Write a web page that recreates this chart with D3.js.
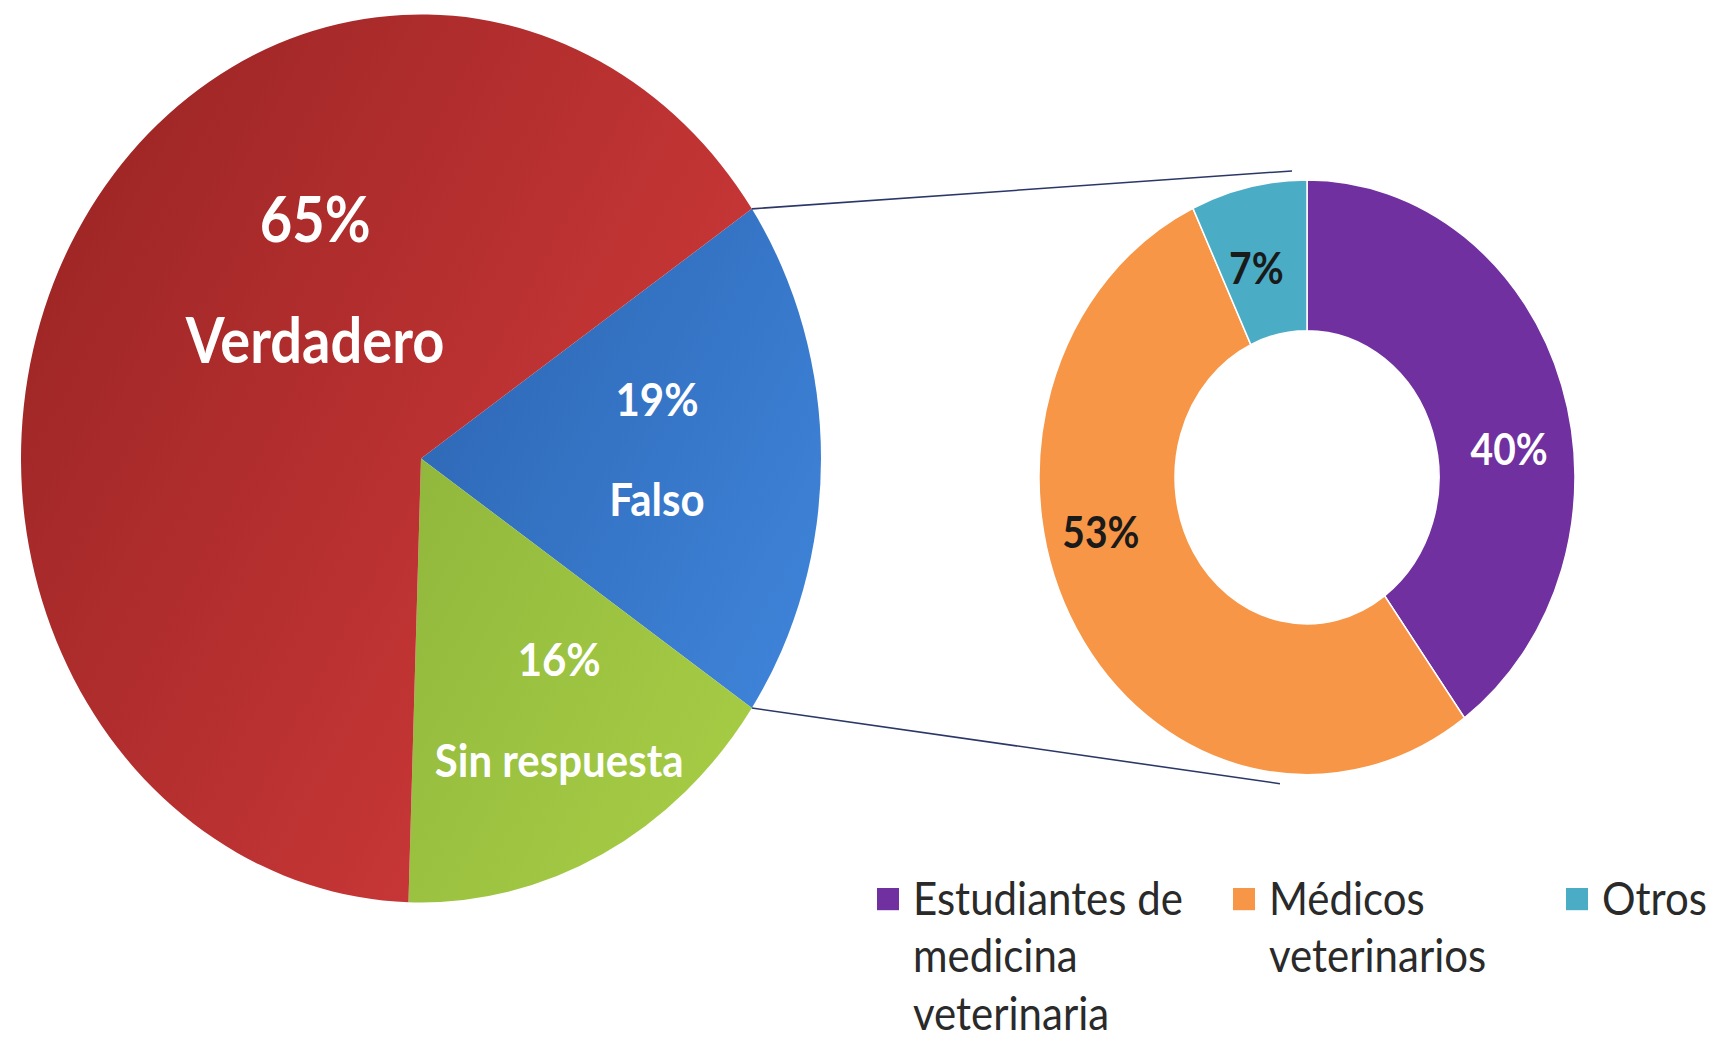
<!DOCTYPE html>
<html><head><meta charset="utf-8">
<script src="https://cdn.jsdelivr.net/npm/d3@7"></script>
<style>html,body{margin:0;padding:0;background:#fff;} svg{display:block;}</style>
</head><body>
<svg id="chart" width="1714" height="1041"></svg>
<script>
// ---------- DATA ----------
const mainCategories = ["Falso", "Sin respuesta", "Verdadero"];
const mainValues = [19, 16, 65];
const mainLabels = ["19%", "16%", "65%"];
const subCategories = ["Estudiantes de medicina veterinaria", "Médicos veterinarios", "Otros"];
const subValues = [40, 53, 7];
const subLabels = ["40%", "53%", "7%"];
const legendLines = [["Estudiantes de", "medicina", "veterinaria"], ["Médicos", "veterinarios"], ["Otros"]];

// ---------- LAYOUT / STYLE ----------
const SY = 1.11; // vertical stretch of the whole picture
const mainPie = {cx: 421, cy: 413, r: 400};
const subPie = {cx: 1307, cy: 430, r: 268, ir: 132};
// gradient colours per main category (Falso, Sin respuesta, Verdadero)
const mainGrad = [["#1f4f96", "#4086dc"], ["#7aa232", "#a8ce46"], ["#9c2525", "#d83d3d"]];
const subColors = ["#7030a0", "#f79646", "#4bacc6"];
const mainLabelLayout = [
  {r: 236, dx: 0, dy: -10, gap: 90, size: 42},
  {r: 267, dx: 17, dy: -13, gap: 91, size: 42},
  {r: 195, dx: 65, dy: -68, gap: 109, size: 56}
];
const subLabelLayout = [
  {dx: 12, dy: 36, fill: "#ffffff"},
  {dx: -34, dy: -53, fill: "#1a1a1a"},
  {dx: -7, dy: 6, fill: "#1a1a1a"}
];
const legendX = [877, 1233, 1566];
const legendY = 800;
const FONT = "Lato, 'Open Sans', sans-serif";

const svg = d3.select("#chart");
const defs = svg.append("defs");
const root = svg.append("g").attr("transform", `scale(1,${SY})`);

// gradients for main pie (user space, diagonal)
mainGrad.forEach((c, i) => {
  const g = defs.append("linearGradient").attr("id", "mg" + i)
    .attr("gradientUnits", "userSpaceOnUse")
    .attr("x1", -mainPie.r).attr("y1", -mainPie.r * 0.6)
    .attr("x2", mainPie.r).attr("y2", mainPie.r * 0.6);
  g.append("stop").attr("offset", "0%").attr("stop-color", c[0]);
  g.append("stop").attr("offset", "100%").attr("stop-color", c[1]);
});

// ---------- MAIN PIE (pie-of-pie: split slice centred on 3 o'clock) ----------
const total = d3.sum(mainValues);
const start = Math.PI / 2 - Math.PI * mainValues[0] / total;
const pieMain = d3.pie().sort(null).value(d => d).startAngle(start).endAngle(start + 2 * Math.PI);
const arcsMain = pieMain(mainValues);
const arcMain = d3.arc().innerRadius(0).outerRadius(mainPie.r);

const gMain = root.append("g").attr("transform", `translate(${mainPie.cx},${mainPie.cy})`);
gMain.selectAll("path").data(arcsMain).join("path")
  .attr("d", arcMain)
  .attr("fill", (d, i) => `url(#mg${i})`);

// labels (percentage + category)
arcsMain.forEach((d, i) => {
  const L = mainLabelLayout[i];
  const c = d3.arc().innerRadius(L.r).outerRadius(L.r).centroid(d);
  const bx = c[0] + L.dx, by = c[1] + L.dy;
  const t = gMain.append("g").attr("font-family", FONT)
    .attr("font-weight", 700).attr("fill", "#ffffff").attr("text-anchor", "middle")
    .attr("font-size", L.size);
  t.append("text").attr("x", bx).attr("y", by - L.gap / 2)
    .attr("dominant-baseline", "central").text(mainLabels[i]);
  t.append("text").attr("x", bx).attr("y", by + L.gap / 2)
    .attr("dominant-baseline", "central").text(mainCategories[i]);
});

// ---------- CONNECTOR LINES ----------
const aTop = arcsMain[0].startAngle, aBot = arcsMain[0].endAngle;
const pTop = [mainPie.cx + mainPie.r * Math.sin(aTop), mainPie.cy - mainPie.r * Math.cos(aTop)];
const pBot = [mainPie.cx + mainPie.r * Math.sin(aBot), mainPie.cy - mainPie.r * Math.cos(aBot)];
const qTop = [subPie.cx - 15, subPie.cy - subPie.r - 8];
const qBot = [subPie.cx - 27, subPie.cy + subPie.r + 8];
root.append("g").attr("stroke", "#2b3766").attr("stroke-width", 1.4).attr("fill", "none")
  .selectAll("line").data([[pTop, qTop], [pBot, qBot]]).join("line")
  .attr("x1", d => d[0][0]).attr("y1", d => d[0][1])
  .attr("x2", d => d[1][0]).attr("y2", d => d[1][1]);

// ---------- DONUT ----------
const pieSub = d3.pie().sort(null).value(d => d);
const arcsSub = pieSub(subValues);
const arcSub = d3.arc().innerRadius(subPie.ir).outerRadius(subPie.r);
const gSub = root.append("g").attr("transform", `translate(${subPie.cx},${subPie.cy})`);
gSub.selectAll("path").data(arcsSub).join("path")
  .attr("d", arcSub)
  .attr("fill", (d, i) => subColors[i])
  .attr("stroke", "#ffffff").attr("stroke-width", 1.5);

const midR = (subPie.r + subPie.ir) / 2;
const midArc = d3.arc().innerRadius(midR).outerRadius(midR);
gSub.selectAll("text").data(arcsSub).join("text")
  .attr("x", (d, i) => midArc.centroid(d)[0] + subLabelLayout[i].dx)
  .attr("y", (d, i) => midArc.centroid(d)[1] + subLabelLayout[i].dy)
  .attr("text-anchor", "middle").attr("dominant-baseline", "central")
  .attr("font-family", FONT).attr("font-weight", 700)
  .attr("font-size", 39)
  .attr("fill", (d, i) => subLabelLayout[i].fill)
  .text((d, i) => subLabels[i]);

// ---------- LEGEND ----------
const gLeg = root.append("g").attr("font-family", FONT)
  .attr("font-size", 42).attr("fill", "#2a2a2a");
subCategories.forEach((c, i) => {
  const it = gLeg.append("g").attr("transform", `translate(${legendX[i]},${legendY})`);
  it.append("rect").attr("x", 0).attr("y", 0).attr("width", 22).attr("height", 20).attr("fill", subColors[i]);
  legendLines[i].forEach((ln, j) => {
    it.append("text").attr("x", 36).attr("y", 24 + j * 52).text(ln);
  });
});
</script>
</body></html>
